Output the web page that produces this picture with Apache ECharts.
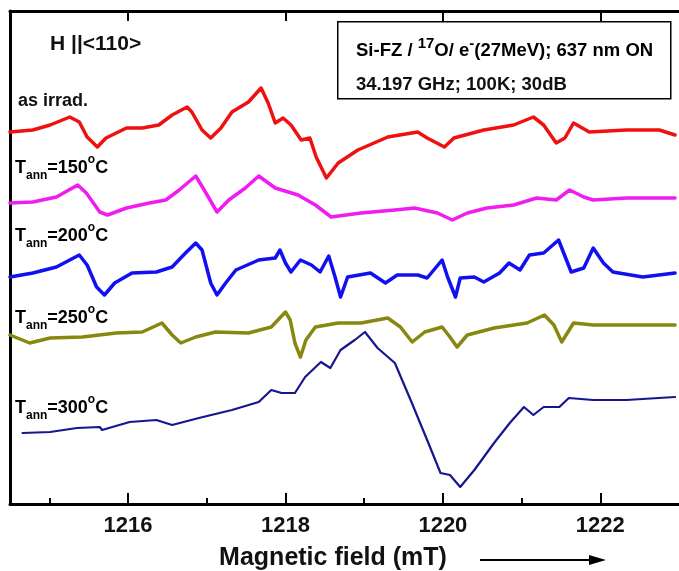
<!DOCTYPE html>
<html>
<head>
<meta charset="utf-8">
<script src="https://cdn.jsdelivr.net/npm/echarts@6/dist/echarts.min.js"></script>
<style>
html,body{margin:0;padding:0;background:#fff;}
#c{width:679px;height:571px;}
</style>
</head>
<body>
<div id="c"></div>
<script>
// Magnetic field (mT) values and EPR signal (arbitrary units, stacked offsets)
const asIrradField = [1214.50,1214.79,1215.01,1215.26,1215.38,1215.48,1215.61,1215.72,1215.98,1216.18,1216.39,1216.56,1216.75,1216.81,1216.94,1217.05,1217.18,1217.32,1217.53,1217.69,1217.78,1217.87,1217.97,1218.07,1218.20,1218.31,1218.39,1218.52,1218.67,1218.92,1219.30,1219.68,1219.80,1220.02,1220.14,1220.52,1220.90,1221.15,1221.28,1221.44,1221.55,1221.66,1221.86,1222.33,1222.75,1222.95];
const asIrradSignal = [372,374,379,387,382,367,357,366,376,376,379,389,397,392,374,366,376,392,402,416,401,381,386,379,364,366,347,326,341,354,367,372,366,357,366,374,379,387,379,361,366,381,372,374,374,369];

const t150Field = [1214.50,1214.79,1215.09,1215.36,1215.47,1215.64,1215.74,1215.98,1216.27,1216.48,1216.65,1216.86,1216.99,1217.13,1217.28,1217.49,1217.66,1217.87,1218.16,1218.38,1218.58,1218.96,1219.39,1219.64,1219.93,1220.12,1220.31,1220.56,1220.90,1221.19,1221.44,1221.61,1221.79,1221.91,1222.33,1222.95];
const t150Signal = [301,302,307,319,311,292,289,296,301,304,314,328,311,292,304,316,328,316,309,299,287,291,294,296,291,284,291,296,299,306,304,314,307,304,306,306];

const t200Field = [1214.50,1214.79,1215.09,1215.38,1215.48,1215.60,1215.70,1215.83,1216.05,1216.36,1216.56,1216.73,1216.86,1216.94,1217.05,1217.13,1217.24,1217.37,1217.66,1217.87,1217.93,1218.00,1218.07,1218.19,1218.33,1218.44,1218.55,1218.63,1218.70,1218.79,1219.08,1219.27,1219.42,1219.68,1219.80,1219.99,1220.06,1220.16,1220.22,1220.40,1220.52,1220.72,1220.84,1220.98,1221.10,1221.28,1221.47,1221.57,1221.63,1221.79,1221.91,1222.04,1222.16,1222.54,1222.95];
const t200Signal = [227,231,237,249,239,217,209,221,231,232,237,251,261,254,221,209,221,234,244,246,254,241,232,244,239,232,248,227,207,227,231,221,229,229,226,244,227,207,226,227,222,231,241,234,249,251,264,244,232,236,256,241,232,227,231];

const t250Field = [1214.50,1214.75,1215.01,1215.42,1215.85,1216.18,1216.43,1216.56,1216.67,1216.86,1217.11,1217.53,1217.82,1218.00,1218.06,1218.12,1218.19,1218.26,1218.38,1218.67,1218.96,1219.30,1219.46,1219.61,1219.77,1219.99,1220.09,1220.18,1220.31,1220.65,1221.07,1221.29,1221.41,1221.51,1221.66,1221.91,1222.33,1222.95];
const t250Signal = [169,161,166,167,171,172,181,169,161,167,172,171,177,192,184,161,147,164,177,181,181,186,177,162,172,177,167,157,169,176,181,189,179,162,181,179,179,179];

const t300Field = [1214.66,1215.01,1215.35,1215.64,1215.67,1216.02,1216.36,1216.56,1216.90,1217.32,1217.66,1217.82,1217.95,1218.12,1218.25,1218.45,1218.57,1218.70,1218.88,1219.01,1219.17,1219.39,1219.59,1219.80,1219.97,1220.09,1220.22,1220.40,1220.65,1220.85,1221.03,1221.15,1221.28,1221.48,1221.60,1221.91,1222.33,1222.95];
const t300Signal = [71,72,76,77,74,82,84,79,86,94,102,114,111,111,127,142,136,154,164,172,156,141,104,64,31,29,17,34,61,81,97,89,97,97,106,104,104,107];

const majorTicks = [1216,1218,1220,1222];
const minorTicks = [1215,1217,1219,1221];

function pairs(xs, ys){ return xs.map((x,i)=>[x, ys[i]]); }

const FONT = '"Liberation Sans", Arial, sans-serif';
const chart = echarts.init(document.getElementById('c'), null, {renderer:'canvas'});

function mkSeries(name, xs, ys, color, w){
  return {name, type:'line', xAxisIndex:0, yAxisIndex:0, data:pairs(xs,ys), showSymbol:false, symbol:'none',
    lineStyle:{color, width:w, join:'round', cap:'round'}, smooth:false, silent:true, z:3};
}

const sub = {fontSize:12, fontWeight:'bold', fontFamily:FONT, verticalAlign:'bottom', color:'#111'};
const sup = {fontSize:12, fontWeight:'bold', fontFamily:FONT, verticalAlign:'top', color:'#111'};
const big = {fontSize:18, fontWeight:'bold', fontFamily:FONT, lineHeight:28, color:'#111'};

function tannLabel(temp, x, y){
  return {type:'text', left:x, top:y, z:10, style:{
    text:'{b|T}{s|ann}{b|=' + temp + '}{p|o}{b|C}',
    rich:{b:big, s:sub, p:sup}
  }};
}

const option = {
  animation:false,
  backgroundColor:'#fff',
  grid:{left:10, top:11, right:-4.4, bottom:67, containLabel:false},
  xAxis:[
    {type:'value', position:'bottom', min:1214.5, max:1223,
      axisLine:{show:true, lineStyle:{color:'#000', width:3}},
      axisTick:{show:true, inside:true, length:11, lineStyle:{color:'#000', width:2}, customValues:majorTicks},
      axisLabel:{show:true, customValues:majorTicks, margin:11, fontSize:22, fontWeight:'bold', fontFamily:FONT, color:'#111',
        formatter:function(v){ return String(Math.round(v)); }},
      splitLine:{show:false}},
    {type:'value', position:'bottom', min:1214.5, max:1223,
      axisLine:{show:false},
      axisTick:{show:true, inside:true, length:6, lineStyle:{color:'#000', width:2}, customValues:minorTicks},
      axisLabel:{show:false}, splitLine:{show:false}},
    {type:'value', position:'top', min:1214.5, max:1223,
      axisLine:{show:true, lineStyle:{color:'#000', width:3}},
      axisTick:{show:true, inside:true, length:10, lineStyle:{color:'#000', width:2}, customValues:majorTicks},
      axisLabel:{show:false}, splitLine:{show:false}}
  ],
  yAxis:[{type:'value', min:0, max:493, position:'left',
    axisLine:{show:true, lineStyle:{color:'#000', width:3}},
    axisTick:{show:false}, axisLabel:{show:false}, splitLine:{show:false}}],
  series:[
    mkSeries('as irrad.', asIrradField, asIrradSignal, '#f01010', 3.5),
    mkSeries('Tann=150°C', t150Field, t150Signal, '#f01cf0', 3.5),
    mkSeries('Tann=200°C', t200Field, t200Signal, '#1010f0', 3.5),
    mkSeries('Tann=250°C', t250Field, t250Signal, '#888810', 3.5),
    mkSeries('Tann=300°C', t300Field, t300Signal, '#161690', 2.2)
  ],
  graphic:[
    {type:'text', left:50, top:34, z:10, style:{text:'H ||<110>', fontSize:21, fontWeight:'bold', fontFamily:FONT, fill:'#111'}},
    {type:'text', left:18, top:92, z:10, style:{text:'as irrad.', fontSize:18, fontWeight:'bold', fontFamily:FONT, fill:'#111'}},
    tannLabel('150', 15, 154),
    tannLabel('200', 15, 222),
    tannLabel('250', 15, 304),
    tannLabel('300', 15, 394),
    {type:'rect', left:337, top:21, z:9, shape:{width:333, height:77}, style:{fill:'#fff', stroke:'#000', lineWidth:1.5}},
    {type:'text', left:356, top:36, z:10, style:{
      text:'{b|Si-FZ / }{p|17}{b|O/ e}{p|-}{b|(27MeV); 637 nm ON}',
      rich:{b:{fontSize:18.5, fontWeight:'bold', fontFamily:FONT, lineHeight:30, color:'#111'},
            p:{fontSize:15, fontWeight:'bold', fontFamily:FONT, verticalAlign:'top', color:'#111'}}}},
    {type:'text', left:356, top:75, z:10, style:{text:'34.197 GHz; 100K; 30dB', fontSize:18.5, fontWeight:'bold', fontFamily:FONT, fill:'#111'}},
    {type:'text', x:333, y:558, z:10, style:{text:'Magnetic field (mT)', fontSize:25, fontWeight:'bold', fontFamily:FONT, fill:'#111', align:'center', verticalAlign:'middle'}},
    {type:'line', z:10, shape:{x1:480, y1:560, x2:596, y2:560}, style:{stroke:'#000', lineWidth:2}},
    {type:'polygon', z:10, shape:{points:[[589,555],[606,560],[589,565]]}, style:{fill:'#000'}}
  ]
};
chart.setOption(option);
</script>
</body>
</html>
